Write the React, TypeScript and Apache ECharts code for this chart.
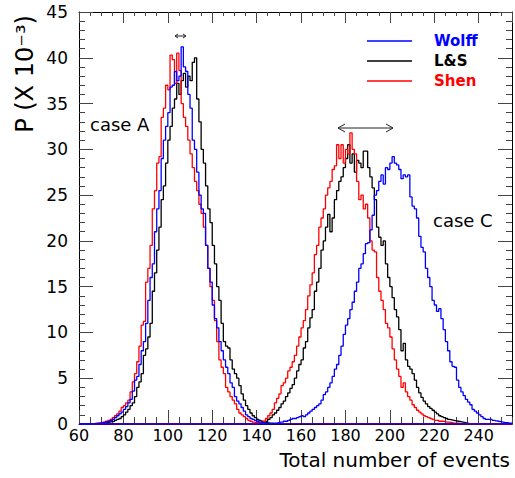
import React, { useEffect, useRef } from "react";
import * as echarts from "echarts";

const XMIN = 60;
const XMAX = 255;
const YMIN = 0;
const YMAX = 45;
const X_TICKS_MAJOR = 20;
const X_TICKS_MINOR = 5;
const Y_TICKS_MAJOR = 5;

const SERIES_NAMES = ["Wolff", "L&S", "Shen"];
const CASE_LABELS = ["case A", "case C"];
const X_TITLE = "Total number of events";
const Y_TITLE = "P (X 10⁻³)";

// Histogram bin contents (x 10^-3), one bin per event count, starting at *_START
const shenA_START = 66;
const shenA = [
  0.05, 0.1, 0.1, 0.15, 0.2, 0.2, 0.3, 0.4, 0.5, 0.7,
  0.9, 1.1, 1.4, 1.8, 2.0, 2.3, 2.6, 3.5, 4.6, 5.5,
  6.8, 8.5, 10.8, 11.2, 15.5, 17.0, 19.5, 23.5, 25.5, 28.5,
  29.2, 33.5, 34.5, 37.0, 36.5, 40.3, 39.8, 37.2, 40.5, 38.6,
  35.0, 33.5, 32.5, 31.0, 29.5, 28.0, 26.5, 25.5, 24.0, 23.0,
  21.5, 19.5, 17.0, 15.0, 13.5, 11.3, 9.0, 7.0, 6.2, 5.5,
  4.0, 3.5, 3.0, 2.6, 2.2, 1.6, 1.2, 1.0, 0.8, 0.6,
  0.4, 0.3, 0.2, 0.15, 0.1, 0.1, 0.05, 0.05,
];

const wolffA_START = 66;
const wolffA = [
  0.05, 0.05, 0.1, 0.1, 0.15, 0.2, 0.25, 0.3, 0.4, 0.5,
  0.7, 0.9, 1.1, 1.3, 1.6, 1.9, 2.3, 2.7, 3.6, 4.8,
  5.2, 6.5, 8.0, 9.0, 11.0, 13.5, 16.0, 17.5, 21.0, 23.5,
  25.5, 29.0, 31.0, 32.5, 34.0, 36.8, 37.0, 38.5, 37.5, 38.0,
  41.2, 39.0, 38.5, 36.0, 34.5, 31.0, 30.0, 27.5, 25.0, 23.5,
  23.0, 19.5, 17.0, 15.5, 13.0, 11.5, 10.5, 9.0, 8.0, 7.0,
  6.2, 5.5, 4.5, 4.0, 3.0, 2.5, 2.2, 1.8, 1.4, 1.0,
  0.8, 0.6, 0.5, 0.4, 0.3, 0.2, 0.15, 0.1, 0.1, 0.05,
];

const lsA_START = 68;
const lsA = [
  0.05, 0.05, 0.1, 0.1, 0.15, 0.2, 0.25, 0.3,
  0.4, 0.5, 0.6, 0.8, 1.0, 1.3, 1.6, 2.0, 2.3, 3.0,
  4.0, 4.6, 5.5, 7.5, 8.2, 9.5, 11.0, 14.5, 16.5, 19.0,
  21.5, 24.5, 26.0, 28.5, 31.0, 32.5, 34.5, 35.5, 37.2, 36.0,
  37.5, 38.3, 36.8, 38.0, 37.5, 39.5, 40.0, 35.5, 33.0, 30.0,
  28.5, 26.0, 23.5, 22.0, 19.5, 17.5, 15.0, 13.5, 11.0, 9.0,
  8.5, 8.3, 7.0, 6.0, 5.5, 5.0, 4.2, 3.3, 2.6, 2.0,
  1.6, 1.2, 0.9, 0.7, 0.5, 0.4, 0.3, 0.2, 0.15, 0.1,
  0.1, 0.05,
];

const shenC_START = 140;
const shenC = [
  0.05, 0.1, 0.2, 0.3, 0.6, 0.9, 1.2, 1.6, 2.3, 2.8,
  3.3, 4.2, 4.5, 5.0, 5.8, 6.2, 6.8, 7.5, 8.5, 9.5,
  10.5, 11.3, 12.5, 14.0, 15.2, 16.5, 18.5, 19.5, 21.5, 22.5,
  23.5, 25.0, 25.8, 26.5, 27.8, 28.2, 30.5, 29.0, 30.5, 28.5,
  30.0, 29.5, 31.8, 30.0, 29.5, 26.5, 24.5, 25.0, 23.5, 24.0,
  22.5, 20.0, 19.0, 18.8, 16.0, 14.5, 13.5, 12.5, 11.0, 10.5,
  9.5, 8.2, 7.0, 6.0, 5.2, 4.0, 4.5, 3.5, 3.0, 2.6,
  2.1, 1.8, 1.5, 1.3, 1.1, 0.9, 0.8, 0.7, 0.6, 0.5,
  0.4, 0.4, 0.3, 0.3, 0.25, 0.2, 0.2, 0.15, 0.1, 0.1,
  0.1, 0.05, 0.05,
];

const lsC_START = 140;
const lsC = [
  0.1, 0.15, 0.2, 0.25, 0.3, 0.5, 0.7, 1.0, 1.2, 1.5,
  1.8, 2.2, 2.5, 3.0, 3.4, 3.9, 4.3, 5.0, 5.8, 6.5,
  7.0, 8.3, 9.0, 10.5, 11.6, 12.5, 14.5, 15.5, 17.0, 19.0,
  20.0, 21.5, 22.9, 21.0, 22.5, 24.5, 25.5, 26.5, 27.0, 28.0,
  29.0, 30.5, 28.5, 29.5, 27.5, 28.8, 28.5, 28.0, 29.8, 29.8,
  28.0, 27.0, 25.8, 24.5, 21.5, 20.4, 19.5, 20.0, 17.5, 16.0,
  15.0, 13.8, 12.5, 11.7, 10.3, 8.0, 8.8, 7.0, 6.3, 6.0,
  5.5, 4.8, 4.0, 3.4, 2.9, 2.5, 2.2, 1.9, 1.7, 1.5,
  1.3, 1.1, 0.9, 0.8, 0.7, 0.6, 0.5, 0.45, 0.4, 0.35,
  0.3, 0.25, 0.2, 0.15, 0.1, 0.05,
];

const wolffC_START = 146;
const wolffC = [
  0.05, 0.1, 0.1, 0.15,
  0.2, 0.2, 0.3, 0.3, 0.4, 0.5, 0.6, 0.6, 0.7, 0.8,
  0.9, 0.8, 1.0, 1.2, 1.4, 1.6, 1.8, 2.0, 2.2, 2.6,
  3.2, 3.5, 4.0, 4.5, 5.2, 6.0, 6.5, 7.5, 8.5, 9.8,
  10.8, 11.5, 12.5, 13.3, 14.5, 15.5, 17.0, 17.5, 18.6, 19.7,
  19.8, 21.2, 22.8, 25.0, 25.5, 26.5, 27.2, 26.2, 28.0, 27.8,
  28.5, 29.2, 28.5, 28.3, 27.8, 26.8, 27.2, 27.0, 27.2, 24.8,
  23.8, 23.5, 22.5, 20.5, 19.3, 18.8, 17.0, 16.0, 15.0, 13.5,
  13.0, 12.3, 12.6, 11.5, 10.3, 9.0, 8.0, 6.8, 6.3, 6.2,
  4.8, 4.0, 3.5, 3.1, 2.7, 2.4, 2.1, 1.6, 1.4, 1.2,
  1.0, 0.8, 0.6, 0.5, 0.5, 0.5, 0.4, 0.35, 0.3, 0.25,
  0.2, 0.15, 0.15, 0.1, 0.1,
];

const COLORS = { wolff: "#0000ff", ls: "#000000", shen: "#ff0000" };
const FONT = "DejaVu Sans";

function toHisto(start: number, vals: number[]): [number, number][] {
  const pts: [number, number][] = [[XMIN, 0]];
  vals.forEach((v, i) => pts.push([start + i, v]));
  pts.push([Math.min(start + vals.length, XMAX), 0]);
  pts.push([XMAX, 0]);
  return pts;
}

function histSeries(name: string, color: string, data: [number, number][]) {
  return {
    type: "line",
    name,
    step: "end",
    data,
    symbol: "none",
    silent: true,
    clip: true,
    xAxisIndex: 0,
    yAxisIndex: 0,
    lineStyle: { color, width: 1.3 },
    itemStyle: { color },
  };
}

function arrow(x1: number, x2: number, y: number, hl: number, hw: number) {
  const st = { stroke: "#222", lineWidth: 1, fill: null };
  return [
    { type: "line", shape: { x1, y1: y, x2, y2: y }, style: st, silent: true },
    {
      type: "polyline",
      shape: { points: [[x1 + hl, y - hw], [x1, y], [x1 + hl, y + hw]] },
      style: st,
      silent: true,
    },
    {
      type: "polyline",
      shape: { points: [[x2 - hl, y - hw], [x2, y], [x2 - hl, y + hw]] },
      style: st,
      silent: true,
    },
  ];
}

export default function App() {
  const ref = useRef<HTMLDivElement>(null);

  useEffect(() => {
    if (!ref.current) return;
    const chart = echarts.init(ref.current, null, { renderer: "svg" });

    const tickStyle = { color: "#444", width: 1 };
    const lineStyle = { color: "#000", width: 1 };

    const xBase = {
      type: "value",
      min: XMIN,
      max: XMAX,
      splitLine: { show: false },
      gridIndex: 0,
    };
    const yBase = {
      type: "value",
      min: YMIN,
      max: YMAX,
      interval: Y_TICKS_MAJOR,
      splitLine: { show: false },
      minorSplitLine: { show: false },
      gridIndex: 0,
    };

    const legendY = [41, 61, 81];
    const legendColors = [COLORS.wolff, COLORS.ls, COLORS.shen];

    const graphics: any[] = [];
    SERIES_NAMES.forEach((n, i) => {
      graphics.push({
        type: "line",
        shape: { x1: 367, y1: legendY[i], x2: 412, y2: legendY[i] },
        style: { stroke: legendColors[i], lineWidth: 1.3 },
        silent: true,
      });
      graphics.push({
        type: "text",
        x: 434,
        y: legendY[i],
        style: {
          text: n,
          fill: legendColors[i],
          font: `bold 15px "${FONT}"`,
          textAlign: "left",
          textVerticalAlign: "middle",
        },
        silent: true,
      });
    });
    graphics.push({
      type: "text",
      x: 90,
      y: 124,
      style: {
        text: CASE_LABELS[0],
        fill: "#000",
        font: `18px "${FONT}"`,
        textAlign: "left",
        textVerticalAlign: "middle",
      },
      silent: true,
    });
    graphics.push({
      type: "text",
      x: 433,
      y: 220,
      style: {
        text: CASE_LABELS[1],
        fill: "#000",
        font: `18px "${FONT}"`,
        textAlign: "left",
        textVerticalAlign: "middle",
      },
      silent: true,
    });
    graphics.push({
      type: "text",
      x: 510,
      y: 460,
      style: {
        text: X_TITLE,
        fill: "#000",
        font: `20px "${FONT}"`,
        textAlign: "right",
        textVerticalAlign: "middle",
      },
      silent: true,
    });
    graphics.push({
      type: "text",
      x: 25,
      y: 74,
      rotation: Math.PI / 2,
      style: {
        text: Y_TITLE,
        fill: "#000",
        font: `24px "${FONT}"`,
        textAlign: "center",
        textVerticalAlign: "middle",
      },
      silent: true,
    });
    graphics.push(...arrow(175, 186, 36, 3, 2));
    graphics.push(...arrow(338, 393, 128, 7, 4));

    chart.setOption({
      animation: false,
      backgroundColor: "#fff",
      textStyle: { fontFamily: FONT },
      grid: { left: 79, right: 3, top: 12, bottom: 54, containLabel: false },
      xAxis: [
        {
          ...xBase,
          position: "bottom",
          interval: X_TICKS_MAJOR,
          axisLine: { show: true, onZero: false, lineStyle },
          axisTick: { show: true, inside: true, length: 14, lineStyle: tickStyle },
          axisLabel: {
            show: true,
            showMaxLabel: false,
            fontSize: 16,
            lineHeight: 8,
            color: "#000",
            margin: 7,
            fontFamily: FONT,
          },
        },
        {
          ...xBase,
          position: "bottom",
          interval: X_TICKS_MINOR,
          axisLine: { show: false, onZero: false },
          axisTick: { show: true, inside: true, length: 7, lineStyle: tickStyle },
          axisLabel: { show: false },
        },
        {
          ...xBase,
          position: "top",
          interval: X_TICKS_MAJOR,
          axisLine: { show: true, onZero: false, lineStyle },
          axisTick: { show: true, inside: true, length: 11, lineStyle: tickStyle },
          axisLabel: { show: false },
        },
        {
          ...xBase,
          position: "top",
          interval: X_TICKS_MINOR,
          axisLine: { show: false, onZero: false },
          axisTick: { show: true, inside: true, length: 4, lineStyle: tickStyle },
          axisLabel: { show: false },
        },
      ],
      yAxis: [
        {
          ...yBase,
          position: "left",
          axisLine: { show: true, onZero: false, lineStyle },
          axisTick: { show: true, inside: true, length: 14, lineStyle: tickStyle },
          minorTick: { show: true, splitNumber: 5, length: 6, lineStyle: tickStyle },
          axisLabel: {
            show: true,
            fontSize: 17,
            lineHeight: 10,
            color: "#000",
            margin: 11,
            fontFamily: FONT,
          },
        },
        {
          ...yBase,
          position: "right",
          axisLine: { show: true, onZero: false, lineStyle },
          axisTick: { show: true, inside: true, length: 14, lineStyle: tickStyle },
          minorTick: { show: true, splitNumber: 5, length: 6, lineStyle: tickStyle },
          axisLabel: { show: false },
        },
      ],
      series: [
        histSeries(SERIES_NAMES[1], COLORS.ls, toHisto(lsA_START, lsA)),
        histSeries(SERIES_NAMES[1], COLORS.ls, toHisto(lsC_START, lsC)),
        histSeries(SERIES_NAMES[2], COLORS.shen, toHisto(shenA_START, shenA)),
        histSeries(SERIES_NAMES[2], COLORS.shen, toHisto(shenC_START, shenC)),
        histSeries(SERIES_NAMES[0], COLORS.wolff, toHisto(wolffA_START, wolffA)),
        histSeries(SERIES_NAMES[0], COLORS.wolff, toHisto(wolffC_START, wolffC)),
      ],
      graphic: graphics,
    });

    return () => chart.dispose();
  }, []);

  return (
    <div
      ref={ref}
      style={{ position: "fixed", left: 0, top: 0, width: 515, height: 478, background: "#fff" }}
    />
  );
}
